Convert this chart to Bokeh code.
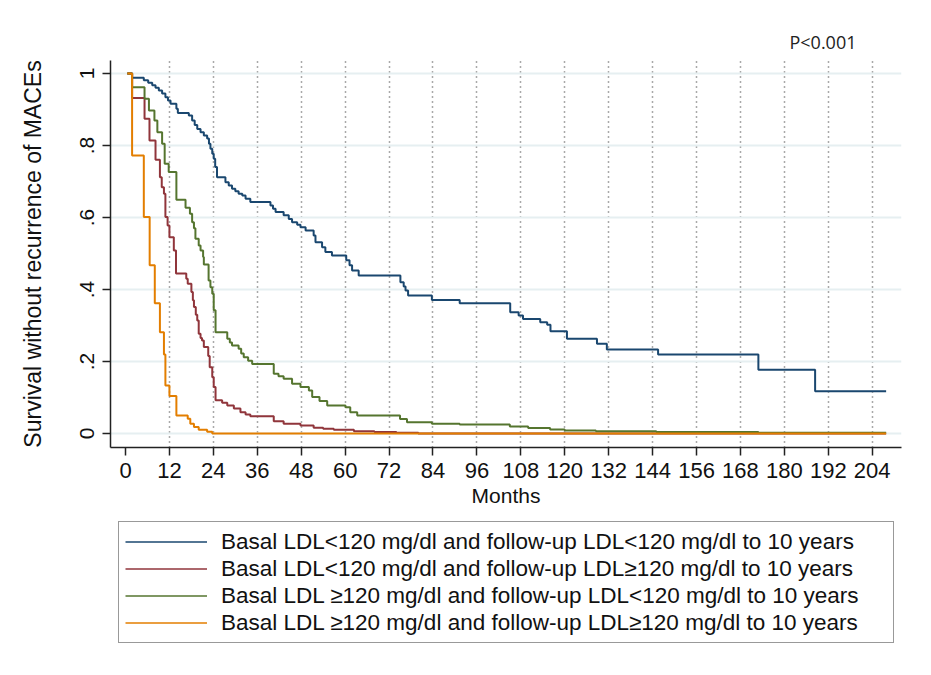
from bokeh.plotting import figure
from bokeh.models import Range1d, FixedTicker, Legend, LegendItem
from bokeh.layouts import column
from bokeh.embed import file_html
from bokeh.resources import INLINE

# ---- data ----
months_ticks = [0, 12, 24, 36, 48, 60, 72, 84, 96, 108, 120, 132, 144, 156, 168, 180, 192, 204]
surv_ticks = [0, 0.2, 0.4, 0.6, 0.8, 1]
surv_tick_labels = ["0", ".2", ".4", ".6", ".8", "1"]
p_value_text = "P<0.001"

labels = [
    "Basal LDL<120 mg/dl and follow-up LDL<120 mg/dl to 10 years",
    "Basal LDL<120 mg/dl and follow-up LDL\u2265120 mg/dl to 10 years",
    "Basal LDL \u2265120 mg/dl and follow-up LDL<120 mg/dl to 10 years",
    "Basal LDL \u2265120 mg/dl and follow-up LDL\u2265120 mg/dl to 10 years",
]
colors = ["#1a476f", "#90353b", "#55752f", "#e37e00"]

blue_t = [0.5, 1.8, 5.0, 6.2, 7.3, 8.2, 9.1, 10.0, 10.9, 11.6, 12.3, 13.9, 14.3, 17.3, 18.2, 18.9,
          19.6, 20.5, 21.4, 22.3, 22.8, 23.2, 23.7, 24.1, 24.5, 25.0, 27.3, 28.2, 29.1, 30.0, 30.9,
          31.9, 32.8, 34.1, 39.6, 40.3, 41.0, 43.2, 44.6, 45.5, 46.9, 47.8, 49.2, 51.4, 51.9, 53.7,
          54.6, 56.4, 60.3, 61.2, 61.9, 63.7, 75.1, 76.0, 76.5, 77.2, 83.7, 91.3, 105.1, 107.4,
          108.6, 113.3, 115.2, 116.1, 120.6, 128.8, 131.5, 145.5, 172.9, 188.4, 207.8]
blue_s = [1.0, 0.988, 0.981, 0.974, 0.967, 0.960, 0.953, 0.944, 0.934, 0.925, 0.916, 0.902, 0.890,
          0.883, 0.869, 0.857, 0.846, 0.837, 0.828, 0.819, 0.805, 0.791, 0.777, 0.763, 0.740, 0.712,
          0.698, 0.689, 0.680, 0.673, 0.666, 0.661, 0.652, 0.643, 0.633, 0.624, 0.615, 0.606, 0.596,
          0.587, 0.580, 0.573, 0.564, 0.550, 0.531, 0.517, 0.504, 0.494, 0.481, 0.467, 0.453, 0.439,
          0.420, 0.408, 0.397, 0.383, 0.371, 0.362, 0.337, 0.328, 0.318, 0.309, 0.302, 0.284, 0.263,
          0.249, 0.233, 0.219, 0.177, 0.117, 0.117]

red_t = [0.5, 1.8, 5.2, 6.55, 8.2, 9.4, 9.9, 10.5, 10.9, 11.5, 12.0, 13.2, 13.8, 16.6, 17.0, 18.0,
         18.4, 18.7, 19.2, 19.6, 20.0, 20.5, 20.9, 21.4, 22.6, 23.0, 23.7, 24.1, 24.6, 26.4, 27.8,
         29.6, 31.4, 32.8, 34.1, 40.5, 43.2, 47.8, 51.4, 54.0, 56.9, 62.4, 68.0, 74.0, 80.0, 207.8]
red_s = [1.0, 0.932, 0.874, 0.814, 0.760, 0.712, 0.684, 0.666, 0.601, 0.578, 0.545, 0.508, 0.444,
         0.430, 0.416, 0.393, 0.370, 0.351, 0.330, 0.314, 0.277, 0.265, 0.258, 0.240, 0.215, 0.184,
         0.156, 0.129, 0.092, 0.085, 0.078, 0.069, 0.059, 0.053, 0.048, 0.034, 0.027, 0.022, 0.016,
         0.013, 0.010, 0.006, 0.004, 0.002, 0.0, 0.0]

green_t = [0.5, 1.8, 5.2, 6.4, 7.9, 8.7, 10.0, 10.7, 11.8, 13.9, 16.4, 17.6, 18.2, 18.7, 19.1, 20.0,
           20.5, 21.2, 21.4, 22.7, 23.2, 23.7, 24.1, 24.6, 27.8, 28.5, 29.1, 30.9, 31.6, 32.3, 33.5,
           34.6, 40.5, 41.8, 43.2, 45.5, 47.8, 50.1, 51.0, 53.0, 55.1, 60.1, 61.4, 63.3, 75.0, 76.9,
           83.7, 91.3, 105.0, 110.0, 116.0, 120.0, 128.5, 145.0, 172.9, 207.8]
green_s = [1.0, 0.962, 0.930, 0.897, 0.869, 0.837, 0.805, 0.749, 0.726, 0.649, 0.627, 0.610, 0.587,
           0.570, 0.541, 0.522, 0.508, 0.490, 0.469, 0.425, 0.406, 0.388, 0.342, 0.281, 0.263, 0.253,
           0.244, 0.235, 0.222, 0.212, 0.202, 0.193, 0.166, 0.159, 0.152, 0.138, 0.129, 0.119, 0.101,
           0.090, 0.078, 0.073, 0.059, 0.050, 0.040, 0.031, 0.027, 0.025, 0.019, 0.015, 0.011, 0.008,
           0.006, 0.004, 0.002, 0.002]

orange_t = [0.5, 1.8, 5.0, 6.6, 8.0, 9.4, 10.5, 10.9, 12.0, 13.9, 17.0, 17.7, 18.7, 20.0, 22.3, 23.7,
            207.8]
orange_s = [1.0, 0.772, 0.601, 0.467, 0.362, 0.281, 0.219, 0.133, 0.104, 0.050, 0.041, 0.027, 0.018,
            0.010, 0.005, 0.0, 0.0]

series_t = [blue_t, red_t, green_t, orange_t]
series_s = [blue_s, red_s, green_s, orange_s]

FONT = "Liberation Sans"

p = figure(width=915, height=510, output_backend="svg", toolbar_location=None,
           x_range=Range1d(-4.1, 212), y_range=Range1d(-0.039, 1.036),
           min_border_left=110, min_border_right=14, min_border_top=60, min_border_bottom=63,
           title=p_value_text)
p.background_fill_color = "white"
p.border_fill_color = "white"
p.outline_line_color = None

p.title.align = "right"
p.title.offset = 45
p.title.text_font = "Open Sans"
p.title.text_font_size = "18px"
p.title.text_font_style = "normal"
p.title.text_color = "#222222"
p.title.standoff = 13

# axes
p.xaxis.ticker = FixedTicker(ticks=months_ticks)
p.yaxis.ticker = FixedTicker(ticks=surv_ticks)
p.yaxis.major_label_overrides = {t: l for t, l in zip(surv_ticks, surv_tick_labels)}
p.yaxis.major_label_orientation = "vertical"
for ax in (p.xaxis, p.yaxis):
    ax.axis_line_color = "#222222"
    ax.axis_line_width = 1.5
    ax.major_tick_line_color = "#222222"
    ax.major_tick_line_width = 1.5
    ax.major_tick_out = 8
    ax.major_tick_in = 0
    ax.minor_tick_line_color = None
    ax.major_label_text_font = FONT
    ax.major_label_text_color = "#111111"
    ax.axis_label_text_font = FONT
    ax.axis_label_text_font_style = "normal"
    ax.axis_label_text_color = "#111111"
p.xaxis.major_label_text_font_size = "22px"
p.yaxis.major_label_text_font_size = "21px"
p.xaxis.axis_label = "Months"
p.xaxis.axis_label_text_font_size = "21px"
p.xaxis.axis_label_standoff = 3
p.xaxis.major_label_standoff = 7
p.yaxis.axis_label = "Survival without recurrence of MACEs"
p.yaxis.axis_label_text_font_size = "23px"
p.yaxis.major_label_standoff = 8
p.yaxis.axis_label_standoff = 32

# grids
p.xgrid.ticker = FixedTicker(ticks=months_ticks[1:])
p.xgrid.grid_line_color = "#555555"
p.xgrid.grid_line_width = 1.5
p.xgrid.grid_line_dash = "1 4"
p.ygrid.grid_line_color = "#e6eff1"
p.ygrid.grid_line_width = 2

for t, s, c in zip(series_t, series_s, colors):
    p.step(t, s, mode="after", line_color=c, line_width=2)

# ---- legend panel (separate figure below the chart; its frame aligns with the chart's) ----
lg = figure(width=915, height=150, output_backend="svg", toolbar_location=None,
            x_range=Range1d(0, 1), y_range=Range1d(0, 1),
            x_axis_location=None, y_axis_location=None,
            min_border_left=0, min_border_right=0, min_border_top=0, min_border_bottom=0)
lg.grid.visible = False
lg.outline_line_color = None
lg.background_fill_color = "white"
lg.border_fill_color = "white"

# legend swatches: renderers kept outside the (hidden) view of this panel
items = []
for l, c in zip(labels, colors):
    r = lg.line([5, 6], [5, 6], line_color=c, line_width=1.6)
    items.append(LegendItem(label=l, renderers=[r]))

legend = Legend(items=items, location=(8, 17), orientation="vertical")
legend.glyph_width = 82
legend.glyph_height = 27
legend.label_height = 27
legend.label_width = 666
legend.label_standoff = 14
legend.padding = 6
legend.spacing = 0
legend.margin = 0
legend.border_line_color = "#333333"
legend.border_line_width = 1.5
legend.label_text_font = FONT
legend.label_text_font_size = "22.5px"
legend.label_text_color = "#111111"
lg.add_layout(legend, "center")

layout = column(p, lg, spacing=0)
open("out.html", "w").write(file_html(layout, INLINE))
